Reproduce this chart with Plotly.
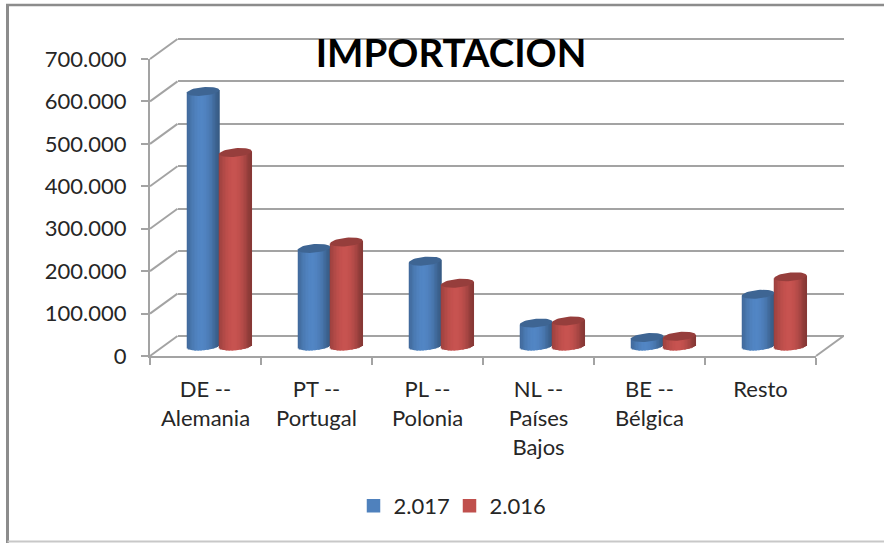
import math
import plotly.graph_objects as go

categories = ["DE --<br>Alemania", "PT --<br>Portugal", "PL --<br>Polonia",
              "NL --<br>Países<br>Bajos", "BE --<br>Bélgica", "Resto"]
values_2017 = [600000, 230000, 200000, 54000, 20000, 122000]
values_2016 = [456000, 245000, 148000, 59000, 23000, 163000]
tick_values = [0, 100000, 200000, 300000, 400000, 500000, 600000, 700000]
tick_labels = ["0", "100.000", "200.000", "300.000", "400.000", "500.000", "600.000", "700.000"]

W, H = 884, 543
X0, X1, Y0, Y1 = 150, 816, 356, 59   # front plane box (px)
DX, DY = 27.5, -20                   # depth of the 3D box (px)
GRAY = "#A3A3A3"
FONT = "Lato, Carlito, sans-serif"
TEXT = "#262626"
VMAX = 700000
PX_PER_UNIT = (Y0 - Y1) / VMAX


def dom_x(shift):
    return [(X0 + shift) / W, (X1 + shift) / W]


def dom_y(shift, low=0, high=0):
    """Domain of a y axis whose range is extended by low/high value units."""
    return [(H - Y0 - shift - low * PX_PER_UNIT) / H, (H - Y1 - shift + high * PX_PER_UNIT) / H]


def mix(c, f):
    return "rgb(%d,%d,%d)" % tuple(min(255, round(v * f)) for v in c)


BLUE = (79, 129, 189)
RED = (192, 80, 77)
# shade across the cylinder, left edge to right edge
SHADE = [(-1.0, .80), (-.75, .90), (-.5, .98), (-.25, 1.03), (0, 1.04), (.25, 1.0),
         (.5, .92), (.75, .80), (1.0, .68)]


def shade_at(t):
    for (a, fa), (b, fb) in zip(SHADE, SHADE[1:]):
        if a <= t <= b:
            return fa + (fb - fa) * (t - a) / (b - a)
    return 1


BAR_W = 0.292                        # category units
RY = 4.3 / PX_PER_UNIT               # ellipse half-height in value units
TILT = 1.4 / PX_PER_UNIT             # ellipse rise at the right edge
STRIPS = 22
LOW2 = 30000                         # room under zero for the round bar bottoms
PAD1 = 10000                         # room so the end gridlines are drawn

fig = go.Figure()

# back wall: gridlines come from this axis pair
fig.add_trace(go.Scatter(x=[0], y=[0], xaxis="x", yaxis="y", mode="none",
                         showlegend=False, hoverinfo="skip"))

positions = list(range(len(categories)))
for series, vals, color, side in [("2.017", values_2017, BLUE, -1), ("2.016", values_2016, RED, 0)]:
    left = [p + side * BAR_W for p in positions]
    for s in range(STRIPS):
        t0 = -1 + 2 * s / STRIPS
        t1 = -1 + 2 * (s + 1) / STRIPS
        tc = (t0 + t1) / 2
        bottom = [-RY * math.sqrt(max(0, 1 - tc * tc)) + TILT * tc for _ in vals]
        top = [v + TILT * tc for v in vals]
        fig.add_trace(go.Bar(
            x=left, y=[a - b for a, b in zip(top, bottom)], base=bottom,
            width=BAR_W / STRIPS * 1.25, offset=[BAR_W * s / STRIPS for _ in vals],
            xaxis="x2", yaxis="y2", marker=dict(color=mix(color, shade_at(tc)), line=dict(width=0)),
            showlegend=False, hoverinfo="skip", cliponaxis=False))
    # top caps
    for l, v in zip(left, vals):
        ts = [2 * math.pi * i / 48 for i in range(49)]
        cx = l + BAR_W / 2
        fig.add_trace(go.Scatter(
            x=[cx + BAR_W / 2 * math.cos(a) for a in ts],
            y=[v + TILT * math.cos(a) + RY * math.sin(a) for a in ts],
            xaxis="x2", yaxis="y2", mode="lines", fill="toself",
            line=dict(width=0), fillcolor=mix(color, .78),
            showlegend=False, hoverinfo="skip", cliponaxis=False))

# legend entries
for series, color in [("2.017", BLUE), ("2.016", RED)]:
    fig.add_trace(go.Bar(x=[None], y=[None], name=series, xaxis="x2", yaxis="y2",
                         marker=dict(color=mix(color, 1), line=dict(width=1.5, color=mix(color, 1)))))

# front plane: tick labels and axis lines
fig.add_trace(go.Scatter(x=categories, y=[0] * len(categories), xaxis="x3", yaxis="y3",
                         mode="none", showlegend=False, hoverinfo="skip"))

shapes = []
for tv in tick_values:   # left side wall
    f = tv / VMAX
    y = Y0 + (Y1 - Y0) * f
    shapes.append(dict(type="line", xref="paper", yref="paper", layer="below",
                       x0=X0 / W, x1=(X0 + DX) / W, y0=(H - y) / H, y1=(H - y - DY) / H,
                       line=dict(color=GRAY, width=2)))
shapes.append(dict(type="line", xref="paper", yref="paper", layer="below",
                   x0=X1 / W, x1=(X1 + DX) / W, y0=(H - Y0) / H, y1=(H - Y0 - DY) / H,
                   line=dict(color=GRAY, width=2)))
# chart frame
for (ax, ay, bx, by, col, wid) in [(7.5, 5, 7.5, 543, "#8C8C8C", 3), (6, 5, 884, 5, "#8C8C8C", 2.5),
                                   (7.5, 541.5, 884, 541.5, "#C8C8C8", 2)]:
    shapes.append(dict(type="line", xref="paper", yref="paper", layer="below",
                       x0=ax / W, x1=bx / W, y0=(H - ay) / H, y1=(H - by) / H,
                       line=dict(color=col, width=wid)))

hidden = dict(showgrid=False, zeroline=False, showticklabels=False, ticks="", showline=False)
fig.update_layout(
    width=W, height=H, margin=dict(l=0, r=0, t=0, b=0, autoexpand=False),
    paper_bgcolor="white", plot_bgcolor="rgba(0,0,0,0)",
    barmode="overlay", shapes=shapes,
    font=dict(family=FONT, size=22, color=TEXT),
    title=dict(text="<b>IMPORTACION</b>", x=451 / W, xanchor="center", y=(H - 54) / H, yanchor="middle",
               font=dict(family=FONT, size=38.5, color="#000000")),
    legend=dict(orientation="h", x=353.5 / W, xanchor="left", y=(H - 506) / H, yanchor="middle",
                entrywidth=51, entrywidthmode="pixels", bgcolor="rgba(0,0,0,0)",
                font=dict(family=FONT, size=22, color=TEXT)),
    # back wall
    xaxis=dict(domain=dom_x(DX), range=[-.5, 5.5], anchor="y", **hidden),
    yaxis=dict(domain=dom_y(DY, PAD1, PAD1), range=[-PAD1, VMAX + PAD1], anchor="x", tickvals=tick_values,
               showgrid=True, gridcolor=GRAY, gridwidth=2, zeroline=False, showticklabels=False,
               ticks="", showline=False),
    # bars, half way back
    xaxis2=dict(domain=dom_x(DX / 2), range=[-.5, 5.5], anchor="y2", **hidden),
    yaxis2=dict(domain=dom_y(DY / 2, LOW2, 0), range=[-LOW2, VMAX], anchor="x2", **hidden),
    # front plane
    xaxis3=dict(domain=dom_x(0), type="category", categoryorder="array", categoryarray=categories,
                range=[-.5, 5.5], anchor="y3", tickson="boundaries", ticks="outside", ticklen=7, tickwidth=2,
                tickcolor=GRAY, showline=True, linecolor=GRAY, linewidth=2, showgrid=False, zeroline=False,
                ticklabelstandoff=13, tickfont=dict(family=FONT, size=22, color=TEXT)),
    yaxis3=dict(domain=dom_y(0), range=[0, VMAX], anchor="x3", tickvals=tick_values, ticktext=tick_labels,
                ticks="outside", ticklen=7, tickwidth=2, tickcolor=GRAY, showline=True, linecolor=GRAY,
                linewidth=2, showgrid=False, zeroline=False, ticklabelstandoff=10,
                tickfont=dict(family=FONT, size=22, color=TEXT)),
)
fig.write_html("out.html", config={"displayModeBar": False},
               post_script="document.body.style.margin='0';document.documentElement.style.overflow='hidden';")
